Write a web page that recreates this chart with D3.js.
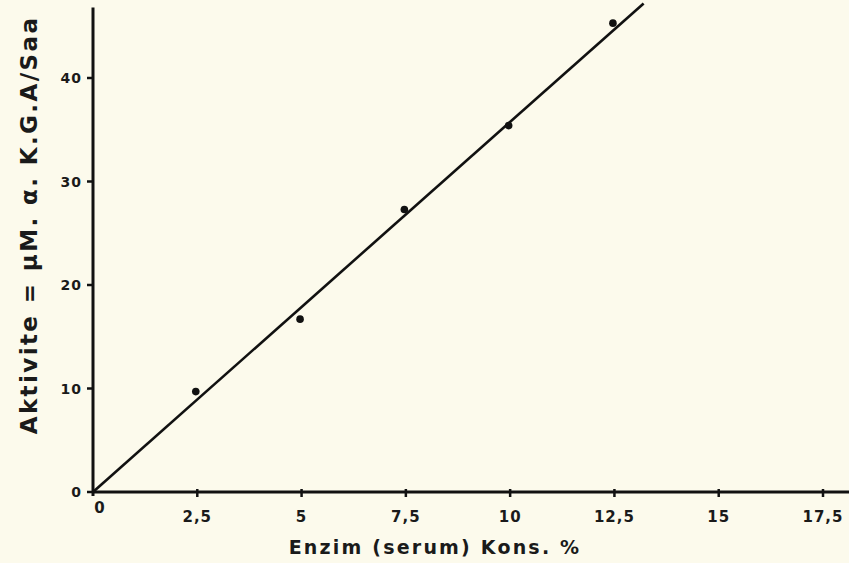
<!DOCTYPE html>
<html><head><meta charset="utf-8">
<script src="https://cdn.jsdelivr.net/npm/d3@7"></script>
<style>html,body{margin:0;padding:0;background:#fcfaec;}svg{display:block;}</style>
</head><body>
<script>
const concentrations = [2.5, 5, 7.5, 10, 12.5];
const activities = [9.7, 16.7, 27.3, 35.4, 45.3];
const fitLine = [[0, 0], [13.2, 47.2]];
const xTicks = [0, 2.5, 5, 7.5, 10, 12.5, 15, 17.5];
const xTickLabels = ["0", "2,5", "5", "7,5", "10", "12,5", "15", "17,5"];
const yTicks = [0, 10, 20, 30, 40];
const yTickLabels = ["0", "10", "20", "30", "40"];
const xTitle = "Enzim (serum) Kons. %";
const yTitle = "Aktivite = μM. α. K.G.A/Saa";

const W = 849, H = 563;
const svg = d3.select("body").append("svg").attr("width", W).attr("height", H);
svg.append("rect").attr("width", W).attr("height", H).attr("fill", "#fcfaec");

const x = d3.scaleLinear().domain([0, 17.5]).range([93, 823]);
const y = d3.scaleLinear().domain([0, 40]).range([492, 78]);
const font = "'DejaVu Sans', sans-serif";

// axes lines
svg.append("line").attr("x1", x(0)).attr("x2", W).attr("y1", y(0)).attr("y2", y(0))
  .attr("stroke", "#111").attr("stroke-width", 3);
svg.append("line").attr("x1", x(0)).attr("x2", x(0)).attr("y1", y(0) + 4).attr("y2", y(46.8))
  .attr("stroke", "#111").attr("stroke-width", 3);

// x ticks
const xg = svg.append("g");
xTicks.forEach((t, i) => {
  if (t > 0) xg.append("line").attr("x1", x(t)).attr("x2", x(t)).attr("y1", y(0) - 3).attr("y2", y(0) + 5)
    .attr("stroke", "#111").attr("stroke-width", 2.5);
  xg.append("text").attr("x", x(t) + (t === 0 ? 7 : 0)).attr("y", y(0) + (t === 0 ? 21 : 30))
    .attr("text-anchor", "middle").attr("font-family", font).attr("font-weight", "bold")
    .attr("font-size", 15).attr("letter-spacing", 1).attr("fill", "#1a1a1a").text(xTickLabels[i]);
});
// y ticks
const yg = svg.append("g");
yTicks.forEach((t, i) => {
  yg.append("line").attr("x1", x(0) - 6).attr("x2", x(0)).attr("y1", y(t)).attr("y2", y(t))
    .attr("stroke", "#111").attr("stroke-width", 2.5);
  yg.append("text").attr("x", x(0) - 11).attr("y", y(t) + 5)
    .attr("text-anchor", "end").attr("font-family", font).attr("font-weight", "bold")
    .attr("font-size", 14).attr("letter-spacing", 1).attr("fill", "#1a1a1a").text(yTickLabels[i]);
});

// fit line
svg.append("path").datum(fitLine)
  .attr("d", d3.line().x(d => x(d[0])).y(d => y(d[1])))
  .attr("stroke", "#111").attr("stroke-width", 2.6).attr("fill", "none");

// points
svg.selectAll("circle.pt").data(concentrations).enter().append("circle")
  .attr("class", "pt").attr("cx", d => x(d) - 1.5).attr("cy", (d, i) => y(activities[i]))
  .attr("r", 3.8).attr("fill", "#111");

// titles
svg.append("text").attr("x", 435).attr("y", 554).attr("text-anchor", "middle")
  .attr("font-family", font).attr("font-weight", "bold").attr("font-size", 19)
  .attr("letter-spacing", 2.2).attr("fill", "#1a1a1a").text(xTitle);
svg.append("text").attr("transform", "translate(37,225) rotate(-90)").attr("text-anchor", "middle")
  .attr("font-family", font).attr("font-weight", "bold").attr("font-size", 23)
  .attr("letter-spacing", 2.4).attr("fill", "#1a1a1a").text(yTitle);
</script>
</body></html>
